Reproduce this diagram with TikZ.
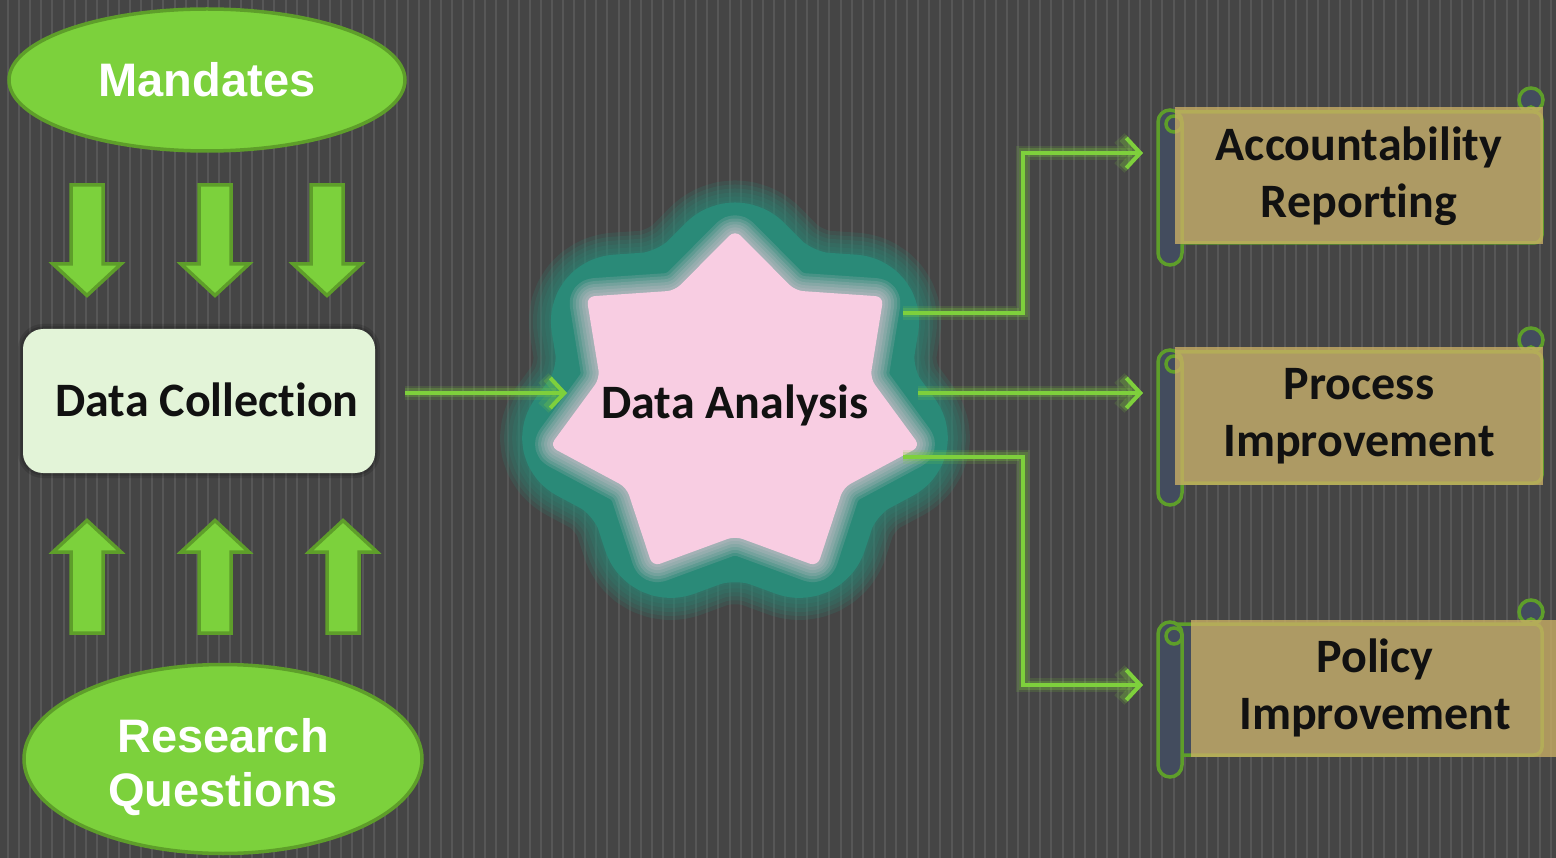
\documentclass[tikz,border=0pt]{standalone}
\usepackage{fontspec}
\usetikzlibrary{positioning, calc, arrows.meta, shapes.geometric}
\newfontfamily\calibri[Ligatures=NoCommon]{Carlito}
\newfontfamily\arialb{Liberation Sans}

\definecolor{bgdark}{HTML}{454545}
\definecolor{bgline}{HTML}{575757}
\definecolor{leaf}{HTML}{7CD13C}
\definecolor{leafdark}{HTML}{5E9E2A}
\definecolor{flowgreen}{HTML}{7ED03C}
\definecolor{mint}{HTML}{E3F4D8}
\definecolor{starteal}{HTML}{2A8A78}
\definecolor{starpink}{HTML}{F8CDE2}
\definecolor{slate}{HTML}{434C5E}
\definecolor{parchment}{RGB}{203,176,102}
\definecolor{inkblack}{HTML}{111111}

\tikzset{
  goal/.style={ellipse, fill=leaf, draw=leafdark, line width=3.5, inner sep=0},
  goaltext/.style={text=white, inner sep=0, align=center, font=\arialb\bfseries\fontsize{47}{54}\selectfont},
  blockarrow/.style={fill=leaf, draw=leafdark, line width=3.5},
  collectbox/.style={rectangle, rounded corners=20, fill=mint, minimum width=352, minimum height=144,
    preaction={draw=black, line width=10, opacity=.12}, preaction={draw=black, line width=5, opacity=.15}},
  boldtext/.style={text=inkblack, font=\calibri\bfseries\fontsize{48}{57}\selectfont, align=center, inner sep=0},
  flow/.style={draw=flowgreen, line width=4, -{Straight Barb[length=14pt, width=30pt]},
    preaction={draw=flowgreen, line width=14, opacity=.15},
    preaction={draw=flowgreen, line width=9, opacity=.25}},
  scrollline/.style={draw=leafdark, line width=3.5},
  scrollbody/.style={boldtext, rectangle, fill=parchment, fill opacity=.78, text opacity=1,
    minimum width=368, minimum height=137},
}

\begin{document}
\begin{tikzpicture}[x=1pt, y=-1pt]
  \useasboundingbox (0,0) rectangle (1556,858);
  % striped backdrop
  \fill[bgdark] (0,0) rectangle (1556,858);
  \foreach \x in {8,19.1,...,1556}
    \draw[bgline, line width=2] (\x,0) -- (\x,858);

  % inputs on the left
  \node[goal, minimum width=396, minimum height=142] (mandates) at (207,80) {};
  \node[goaltext] (mandateslabel) at (207,80) {Mandates};
  \node[goal, minimum width=398, minimum height=189] (questions) at (223,759) {};
  \node[goaltext] (questionslabel) at (223,767) {Research\\Questions};
  \foreach \x in {87,215,327}
    \draw[blockarrow] (\x-16,185) -- (\x+16,185) -- (\x+16,264) -- (\x+34,264) -- (\x,295.5)
      -- (\x-34,264) -- (\x-16,264) -- cycle;
  \foreach \x in {87,215,343}
    \draw[blockarrow] (\x-16,633) -- (\x+16,633) -- (\x+16,552) -- (\x+34,552) -- (\x,520.5)
      -- (\x-34,552) -- (\x-16,552) -- cycle;

  \node[collectbox] (collect) at (199,401) {};
  \node[boldtext] (collectlabel) at (207,400) {Data Collection};

  % seven pointed star with a soft teal halo
  \foreach \i in {0,...,13} {
    \pgfmathsetmacro\rr{ifthenelse(mod(\i,2)==0, 1, 0.73)}
    \coordinate (s\i) at ($(735,407)+(90+\i*360/14:\rr*190pt and \rr*177pt)$);
  }
  \foreach \w in {124,116,...,84}
    \draw[starteal, line width=\w, opacity=.18, line join=round, rounded corners=30]
      (s0) \foreach \i in {1,...,13}{-- (s\i)} -- cycle;
  \draw[starteal, fill=starteal, line width=80, line join=round, rounded corners=30]
    (s0) \foreach \i in {1,...,13}{-- (s\i)} -- cycle;
  \foreach \w in {36,30,...,6}
    \draw[starpink, line width=\w, opacity=.14, line join=round, rounded corners=8]
      (s0) \foreach \i in {1,...,13}{-- (s\i)} -- cycle;
  \fill[starpink, rounded corners=8] (s0) \foreach \i in {1,...,13}{-- (s\i)} -- cycle;
  \node[boldtext] (analysis) at (735,405) {Data Analysis};

  % connectors
  \coordinate (outCollect) at (405,393);
  \coordinate (inAnalysis) at (567,393);
  \coordinate (outAcct) at (903,313);
  \coordinate (outProc) at (918,393);
  \coordinate (outPolicy) at (903,457);
  \coordinate (inAcct) at (1143,153);
  \coordinate (inProc) at (1143,393);
  \coordinate (inPolicy) at (1143,685);
  \draw[flow] (outCollect) -- (inAnalysis);
  \draw[flow] (outAcct) -- ++(120,0) |- (inAcct);
  \draw[flow] (outProc) -- (inProc);
  \draw[flow] (outPolicy) -- ++(120,0) |- (inPolicy);

  % scrolls on the right
  \foreach \sy in {112,352,624} {
    \draw[scrollline, fill=slate] (1531,\sy-12) circle[radius=12pt];
    \draw[scrollline] (1527,\sy-1) arc[start angle=180, end angle=0, radius=4pt];
    \draw[scrollline, fill=slate, rounded corners=8] (1170,\sy) -- (1542,\sy) -- (1542,\sy+131) -- (1170,\sy+131);
    \draw[scrollline, fill=slate, rounded corners=12] (1158,\sy-2) rectangle (1182,\sy+153);
    \draw[scrollline] (1174,\sy+12) circle[radius=8pt];
  }
  \node[scrollbody] (acct) at (1359,176) {Accountability\\Reporting};
  \node[scrollbody] (proc) at (1359,416) {Process\\Improvement};
  \node[scrollbody] (policy) at (1375,688) {Policy\\Improvement};
\end{tikzpicture}
\end{document}
